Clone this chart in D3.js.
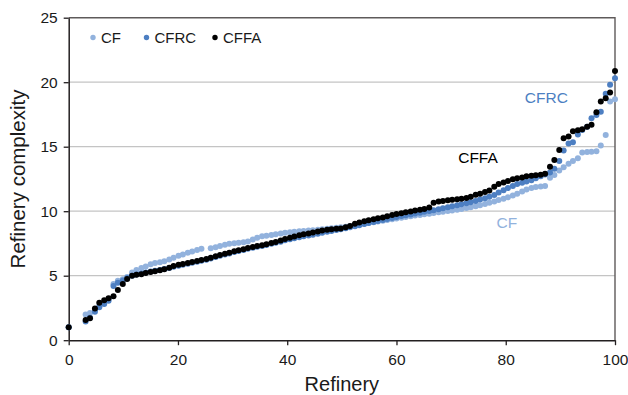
<!DOCTYPE html>
<html>
<head>
<meta charset="utf-8">
<script src="https://cdn.jsdelivr.net/npm/d3@7"></script>
<style>
  html, body { margin: 0; padding: 0; background: #ffffff; }
  svg { display: block; font-family: "Liberation Sans", Arial, sans-serif; }
</style>
</head>
<body>
<svg id="chart" width="628" height="395"></svg>
<script>
// Cumulative refinery share (%) at which each refinery is plotted
const refineryPct = [0,
  3.1, 3.9, 4.8, 5.6, 6.5, 7.3, 8.2, 9.0, 9.9, 10.7,
  11.6, 12.4, 13.3, 14.1, 15.0, 15.8, 16.7, 17.5, 18.4, 19.2,
  20.1, 20.9, 21.8, 22.6, 23.5, 24.3, 25.2, 26.0, 26.9, 27.7,
  28.6, 29.4, 30.3, 31.1, 32.0, 32.8, 33.7, 34.5, 35.4, 36.2,
  37.1, 37.9, 38.8, 39.6, 40.5, 41.3, 42.2, 43.0, 43.9, 44.7,
  45.6, 46.4, 47.3, 48.1, 49.0, 49.8, 50.7, 51.5, 52.4, 53.2,
  54.1, 54.9, 55.8, 56.6, 57.5, 58.3, 59.2, 60.0, 60.9, 61.7,
  62.6, 63.4, 64.3, 65.1, 66.0, 66.8, 67.7, 68.5, 69.4, 70.2,
  71.1, 71.9, 72.8, 73.6, 74.5, 75.3, 76.2, 77.0, 77.9, 78.7,
  79.6, 80.4, 81.3, 82.1, 83.0, 83.8, 84.7, 85.5, 86.4, 87.2,
  88.1, 88.9, 89.8, 90.6, 91.5, 92.3, 93.2, 94.0, 94.9, 95.7,
  96.6, 97.4, 98.3, 99.1, 100.0];

// Complexity factor (CF)
const cf = [1.0,
  2.00, 2.10, 2.35, 2.65, 2.95, 3.20, 4.35, 4.60, 4.72, 4.90,
  5.25, 5.45, 5.60, 5.72, 5.88, 5.98, 6.05, 6.12, 6.25, 6.40,
  6.55, 6.65, 6.78, 6.88, 7.00, 7.08, null, 7.12, 7.20, 7.30,
  7.40, 7.48, 7.52, 7.55, 7.60, 7.66, 7.80, 7.95, 8.05, 8.10,
  8.16, 8.22, 8.27, 8.32, 8.36, 8.40, 8.44, 8.47, 8.50, 8.53,
  8.56, 8.60, 8.64, 8.68, 8.72, 8.76, 8.80, 8.85, 8.90, 8.96,
  9.02, 9.08, 9.14, 9.20, 9.26, 9.32, 9.38, 9.44, 9.50, 9.56,
  9.61, 9.66, 9.71, 9.76, 9.81, 9.86, 9.91, 9.96, 10.01, 10.06,
  10.12, 10.18, 10.24, 10.30, 10.38, 10.46, 10.56, 10.66, 10.76, 10.86,
  10.96, 11.08, 11.22, 11.36, 11.52, 11.68, 11.80, 11.88, 11.92, 11.96,
  12.60, 12.80, 13.15, 13.40, 13.68, 13.90, 14.10, 14.55, 14.58, 14.60,
  14.65, 15.10, 15.90, 18.50, 18.67];

// Complexity factor, replacement cost weighted (CFRC)
const cfrc = [1.0,
  1.45, 1.75, 2.20, 2.55, 2.80, 3.05, 4.20, 4.45, 4.62, 4.82,
  5.00, 5.10, 5.18, 5.25, 5.32, 5.38, 5.45, 5.52, 5.60, 5.70,
  5.78, 5.85, 5.93, 6.00, 6.08, 6.16, 6.24, 6.34, 6.44, 6.54,
  6.64, 6.72, 6.83, 6.92, 7.00, 7.08, 7.16, 7.24, 7.30, 7.38,
  7.47, 7.55, 7.64, 7.74, 7.83, 7.90, 7.98, 8.05, 8.12, 8.18,
  8.25, 8.32, 8.40, 8.47, 8.54, 8.60, 8.68, 8.75, 8.84, 8.92,
  9.00, 9.08, 9.16, 9.24, 9.32, 9.40, 9.48, 9.55, 9.62, 9.68,
  9.75, 9.82, 9.88, 9.95, 10.02, 10.08, 10.15, 10.22, 10.30, 10.38,
  10.46, 10.54, 10.62, 10.70, 10.80, 10.90, 11.00, 11.12, 11.25, 11.45,
  11.62, 11.80, 11.95, 12.10, 12.20, 12.30, 12.40, 12.55, 12.70, 12.85,
  13.00, 13.30, 13.90, 14.70, 15.25, 15.35, 15.95, 16.30, 16.55, 17.20,
  17.45, 17.70, 19.10, 19.80, 20.30];

// Complexity factor, fixed-asset weighted (CFFA)
const cffa = [1.0,
  1.57, 1.70, 2.45, 2.90, 3.10, 3.25, 3.40, 3.90, 4.35, 4.75,
  5.00, 5.08, 5.12, 5.20, 5.28, 5.35, 5.42, 5.50, 5.62, 5.75,
  5.84, 5.90, 5.98, 6.06, 6.14, 6.22, 6.30, 6.40, 6.50, 6.60,
  6.70, 6.78, 6.90, 6.98, 7.06, 7.14, 7.22, 7.30, 7.36, 7.44,
  7.54, 7.62, 7.72, 7.84, 7.95, 8.04, 8.14, 8.22, 8.28, 8.35,
  8.42, 8.50, 8.56, 8.60, 8.63, 8.66, 8.75, 8.85, 9.02, 9.12,
  9.22, 9.30, 9.38, 9.45, 9.52, 9.60, 9.70, 9.78, 9.85, 9.92,
  9.98, 10.05, 10.12, 10.18, 10.28, 10.65, 10.75, 10.80, 10.85, 10.88,
  10.92, 10.97, 11.02, 11.12, 11.28, 11.36, 11.48, 11.60, 11.90, 12.10,
  12.22, 12.35, 12.48, 12.55, 12.62, 12.70, 12.75, 12.78, 12.82, 12.90,
  13.45, 13.97, 14.74, 15.65, 15.80, 16.20, 16.28, 16.35, 16.55, 16.70,
  17.67, 18.50, 18.75, 19.20, 20.87];

const seriesNames = ["CF", "CFRC", "CFFA"];
const seriesValues = [cf, cfrc, cffa];
const seriesColors = ["#92b2dd", "#4d7fc2", "#000000"];

const xTicks = [0, 20, 40, 60, 80, 100];
const yTicks = [0, 5, 10, 15, 20, 25];
const gridTicks = [5, 10, 15, 20];

const xTitle = "Refinery";
const yTitle = "Refinery complexity";

// In-plot series labels, anchored in data units
const seriesLabels = [
  { name: "CFRC", series: 1, at: [83.5, 18.4] },
  { name: "CFFA", series: 2, at: [71.3, 13.7] },
  { name: "CF",   series: 0, at: [78.3, 8.7] }
];

const svg = d3.select("#chart");
const margin = { left: 68.7, right: 13, top: 17.7, bottom: 54.8 };
const W = 628, H = 395;

const x = d3.scaleLinear().domain([0, 100]).range([margin.left, W - margin.right]);
const y = d3.scaleLinear().domain([0, 25]).range([H - margin.bottom, margin.top]);

// Horizontal gridlines
svg.append("g")
  .selectAll("line")
  .data(gridTicks)
  .join("line")
  .attr("x1", x(0)).attr("x2", x(100))
  .attr("y1", d => y(d)).attr("y2", d => y(d))
  .attr("stroke", "#c4c4c4")
  .attr("stroke-width", 1.2);

// Top and right frame lines
svg.append("path")
  .attr("d", `M${x(0)},${y(25)}H${x(100)}V${y(0)}`)
  .attr("fill", "none")
  .attr("stroke", "#5e5a5a")
  .attr("stroke-width", 1.4);

// Axes
const xAxis = d3.axisBottom(x).tickValues(xTicks).tickSize(5).tickSizeOuter(0).tickPadding(9);
const yAxis = d3.axisLeft(y).tickValues(yTicks).tickSize(5).tickSizeOuter(0).tickPadding(6);

const gx = svg.append("g").attr("transform", `translate(0,${y(0)})`).call(xAxis);
const gy = svg.append("g").attr("transform", `translate(${x(0)},0)`).call(yAxis);

[gx, gy].forEach(g => {
  g.select(".domain").attr("stroke", "#231f20").attr("stroke-width", 1.5);
  g.selectAll(".tick line").attr("stroke", "#231f20").attr("stroke-width", 1.3);
  g.selectAll(".tick text")
    .attr("fill", "#1a1a1a")
    .style("font-family", '"Liberation Sans", Arial, sans-serif')
    .style("font-size", "15.5px");
});

// Axis titles
svg.append("text")
  .attr("x", (x(0) + x(100)) / 2)
  .attr("y", 391)
  .attr("text-anchor", "middle")
  .attr("fill", "#1a1a1a")
  .style("font-size", "20px")
  .text(xTitle);

svg.append("text")
  .attr("transform", `translate(25,${(y(0) + y(25)) / 2}) rotate(-90)`)
  .attr("text-anchor", "middle")
  .attr("fill", "#1a1a1a")
  .style("font-size", "20.5px")
  .text(yTitle);

// Scatter points, CF first so CFFA sits on top
seriesValues.forEach((vals, si) => {
  const pts = refineryPct
    .map((p, i) => ({ p, v: vals[i] }))
    .filter(d => d.v !== null);
  svg.append("g")
    .selectAll("circle")
    .data(pts)
    .join("circle")
    .attr("cx", d => x(d.p))
    .attr("cy", d => y(d.v))
    .attr("r", 3.0)
    .attr("fill", seriesColors[si]);
});

// Series labels inside the plot
svg.append("g")
  .selectAll("text")
  .data(seriesLabels)
  .join("text")
  .attr("x", d => x(d.at[0]))
  .attr("y", d => y(d.at[1]))
  .attr("fill", d => seriesColors[d.series])
  .style("font-size", "15.5px")
  .text(d => d.name);

// Legend
const legendX = [93, 146.5, 215];
const legend = svg.append("g");
seriesNames.forEach((name, i) => {
  legend.append("circle")
    .attr("cx", legendX[i]).attr("cy", 37.5)
    .attr("r", 2.7)
    .attr("fill", seriesColors[i]);
  legend.append("text")
    .attr("x", legendX[i] + 8).attr("y", 42.6)
    .attr("fill", "#1a1a1a")
    .style("font-size", "15px")
    .text(name);
});
</script>
</body>
</html>
